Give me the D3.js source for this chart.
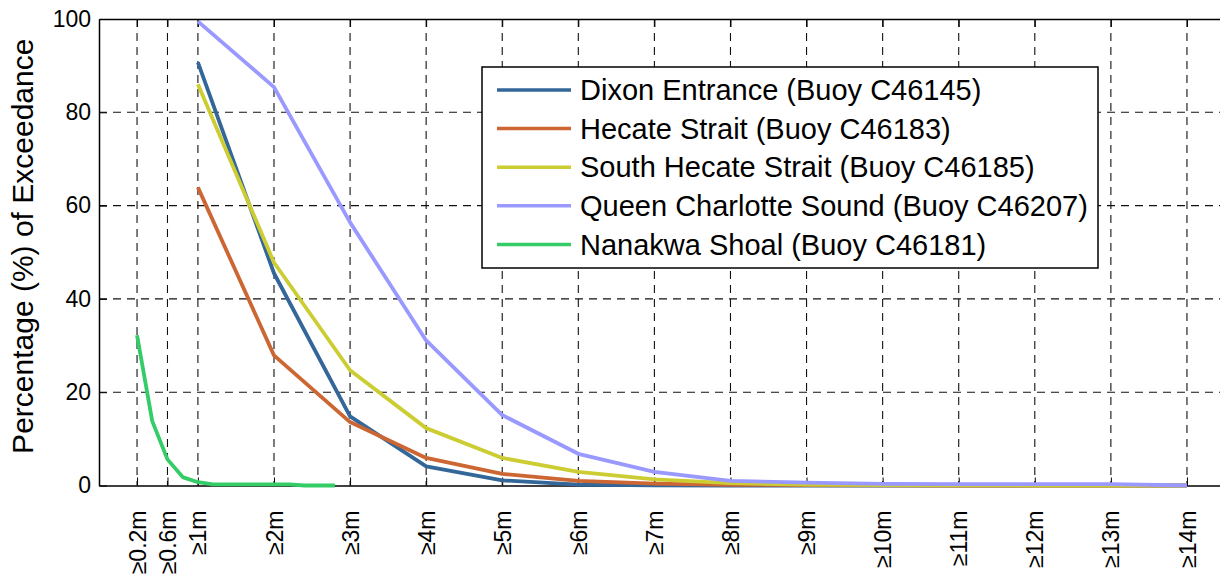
<!DOCTYPE html>
<html>
<head>
<meta charset="utf-8">
<script src="https://cdn.jsdelivr.net/npm/d3@7"></script>
<style>
  body { margin: 0; background: #fff; }
  svg { display: block; font-family: "Liberation Sans", Arial, sans-serif; }
</style>
</head>
<body>
<svg id="chart" width="1220" height="579"></svg>
<script>
// wave height thresholds (m)
const wholeHeights = [1, 2, 3, 4, 5, 6, 7, 8, 9, 10, 11, 12, 13, 14];
const fineHeights = [0.2, 0.4, 0.6, 0.8, 1.0, 1.2, 1.4, 1.6, 1.8, 2.0, 2.2, 2.4, 2.6, 2.8];
const xTickValues = [0.2, 0.6, 1, 2, 3, 4, 5, 6, 7, 8, 9, 10, 11, 12, 13, 14];
const xTickLabels = ["≥0.2m", "≥0.6m", "≥1m", "≥2m", "≥3m", "≥4m", "≥5m", "≥6m", "≥7m",
  "≥8m", "≥9m", "≥10m", "≥11m", "≥12m", "≥13m", "≥14m"];
const yTickValues = [0, 20, 40, 60, 80, 100];

// percentage of exceedance per buoy
const dixonEntrance = [90.7, 45.5, 14.8, 4.1, 1.1, 0.2, 0.05, 0, 0, 0, 0, 0, 0, 0];
const hecateStrait = [63.9, 27.9, 13.6, 5.9, 2.5, 1.0, 0.4, 0.15, 0.1, 0.05, 0, 0, 0, 0];
const southHecate = [86.0, 47.8, 24.7, 12.3, 5.9, 2.9, 1.3, 0.5, 0.2, 0.1, 0.05, 0, 0, 0];
const queenCharlotte = [99.5, 85.4, 56.4, 31.1, 15.1, 6.8, 2.9, 1.0, 0.6, 0.35, 0.3, 0.3, 0.3, 0];
const nanakwaShoal = [32.2, 13.8, 5.6, 1.8, 0.7, 0.25, 0.25, 0.25, 0.25, 0.25, 0.25, 0, 0, 0];

const seriesNames = [
  "Dixon Entrance (Buoy C46145)",
  "Hecate Strait (Buoy C46183)",
  "South Hecate Strait (Buoy C46185)",
  "Queen Charlotte Sound (Buoy C46207)",
  "Nanakwa Shoal (Buoy C46181)"
];
const seriesColors = ["#336699", "#cc6633", "#cccc33", "#9999ff", "#33cc66"];

const series = [
  { name: seriesNames[0], color: seriesColors[0], xs: wholeHeights, ys: dixonEntrance },
  { name: seriesNames[1], color: seriesColors[1], xs: wholeHeights, ys: hecateStrait },
  { name: seriesNames[2], color: seriesColors[2], xs: wholeHeights, ys: southHecate },
  { name: seriesNames[3], color: seriesColors[3], xs: wholeHeights, ys: queenCharlotte },
  { name: seriesNames[4], color: seriesColors[4], xs: fineHeights, ys: nanakwaShoal }
];

const padding = { top: 19, bottom: 93.5, left: 99, right: -5 };
const width = 1220;
const height = 579;
const svg = d3.select("#chart");

const xScale = d3.scaleLinear()
  .domain([-0.3, 14.5])
  .range([padding.left, width - padding.right]);
const yScale = d3.scaleLinear()
  .domain([0, 100])
  .range([height - padding.bottom, padding.top]);

// dashed grid
const grid = svg.append("g")
  .attr("stroke", "#111")
  .attr("stroke-width", 1.1)
  .attr("stroke-dasharray", "8,6");
grid.selectAll(".vgrid")
  .data(xTickValues)
  .join("line")
  .attr("x1", (d) => xScale(d))
  .attr("x2", (d) => xScale(d))
  .attr("y1", yScale(100))
  .attr("y2", yScale(0));
grid.selectAll(".hgrid")
  .data(yTickValues.filter((d) => d > 0 && d < 100))
  .join("line")
  .attr("x1", xScale.range()[0])
  .attr("x2", xScale.range()[1])
  .attr("y1", (d) => yScale(d))
  .attr("y2", (d) => yScale(d));

// axes
const xAxis = d3.axisBottom(xScale)
  .tickValues(xTickValues)
  .tickFormat((d, i) => xTickLabels[i])
  .tickSize(-8)
  .tickSizeOuter(0);
const xAxisGroup = svg.append("g")
  .attr("transform", `translate(0, ${yScale(0)})`)
  .call(xAxis);
xAxisGroup.selectAll("text")
  .attr("transform", "rotate(-90)")
  .attr("text-anchor", "end")
  .attr("x", -25)
  .attr("y", 0)
  .attr("dy", "0.35em");

const topAxisGroup = svg.append("g")
  .attr("transform", `translate(0, ${yScale(100)})`)
  .call(d3.axisTop(xScale).tickValues(xTickValues).tickFormat("").tickSize(-8).tickSizeOuter(0));

const yAxisGroup = svg.append("g")
  .attr("transform", `translate(${padding.left}, 0)`)
  .call(d3.axisLeft(yScale).tickValues(yTickValues).tickSize(-8).tickSizeOuter(0).tickPadding(8));

[xAxisGroup, topAxisGroup, yAxisGroup].forEach((g) => {
  g.selectAll("path.domain").attr("stroke", "#000").attr("stroke-width", 1.5);
  g.selectAll(".tick line").attr("stroke", "#000").attr("stroke-width", 1);
  g.selectAll("text")
    .attr("fill", "#000")
    .style("font-size", "23px")
    .style("font-family", "'Liberation Sans', Arial, sans-serif");
});

// y label
svg.append("text")
  .attr("transform", `translate(33, ${(yScale(0) + yScale(100)) / 2 - 6}) rotate(-90)`)
  .attr("text-anchor", "middle")
  .style("font-size", "30px")
  .text("Percentage (%) of Exceedance");

// lines
const lineGenerator = d3.line()
  .x((d) => xScale(d[0]))
  .y((d) => yScale(d[1]));

svg.append("g")
  .selectAll("path")
  .data(series)
  .join("path")
  .attr("fill", "none")
  .attr("stroke", (s) => s.color)
  .attr("stroke-width", 3.8)
  .attr("stroke-linejoin", "round")
  .attr("d", (s) => lineGenerator(s.xs.map((x, i) => [x, s.ys[i]])));

// legend
const legend = svg.append("g").attr("transform", "translate(482, 67)");
legend.append("rect")
  .attr("width", 616)
  .attr("height", 201)
  .attr("fill", "#fff")
  .attr("stroke", "#000")
  .attr("stroke-width", 1.5);
const rowStep = 38.6;
const legendRows = legend.selectAll(".row")
  .data(series)
  .join("g")
  .attr("transform", (s, i) => `translate(0, ${23 + i * rowStep})`);
legendRows.append("line")
  .attr("x1", 15)
  .attr("x2", 89)
  .attr("stroke", (s) => s.color)
  .attr("stroke-width", 3.5);
legendRows.append("text")
  .attr("x", 98)
  .attr("dy", "0.35em")
  .style("font-size", "29px")
  .text((s) => s.name);
</script>
</body>
</html>
